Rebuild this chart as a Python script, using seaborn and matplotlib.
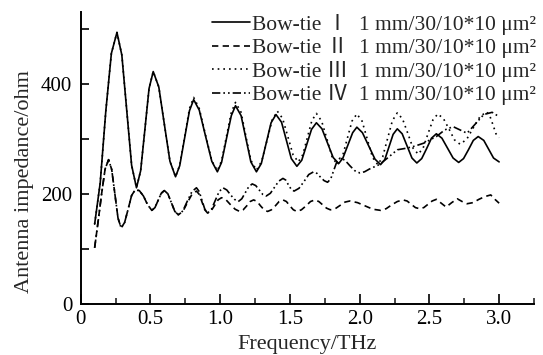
import numpy as np
import pandas as pd
import seaborn as sns
import matplotlib
matplotlib.use('Agg')
import matplotlib.pyplot as plt
from matplotlib.ticker import FixedLocator

# ---- data (frequency in THz, impedance in ohm) ----
head_x = [0.10, 0.14, 0.18, 0.22, 0.26, 0.295, 0.33, 0.365, 0.40,
          0.43, 0.46, 0.49, 0.52, 0.56, 0.60, 0.64, 0.68,
          0.71, 0.745, 0.78, 0.81, 0.85, 0.895, 0.94]

bt1_x = head_x + [0.98, 1.01, 1.045, 1.08, 1.11, 1.15, 1.185, 1.22, 1.26,
                  1.295, 1.33, 1.365, 1.40, 1.44, 1.475, 1.51, 1.55,
                  1.585, 1.62, 1.655, 1.69, 1.73, 1.77, 1.81, 1.85,
                  1.88, 1.915, 1.95, 1.98, 2.02, 2.065, 2.11, 2.15,
                  2.18, 2.21, 2.24, 2.27, 2.305, 2.34, 2.375, 2.41,
                  2.445, 2.48, 2.515, 2.55, 2.59, 2.63, 2.67, 2.71,
                  2.745, 2.78, 2.815, 2.85, 2.89, 2.925, 2.96, 3.00]
bt1_z = [145, 220, 350, 455, 493, 452, 352, 252, 211,
         242, 316, 391, 422, 394, 326, 259, 231,
         251, 301, 351, 371, 352, 305, 259,
         240, 257, 300, 342, 360, 342, 300, 258, 240,
         255, 292, 329, 344, 330, 297, 264, 250,
         261, 289, 317, 329, 318, 292, 266, 255,
         265, 288, 311, 321, 311, 287, 263, 253,
         262, 285, 308, 318, 309, 287, 265, 256,
         264, 282, 301, 309, 301, 283, 265, 257,
         264, 280, 297, 304, 297, 281, 265, 258]

bt3_x = head_x + [0.98, 1.01, 1.045, 1.08, 1.11, 1.15, 1.185, 1.22, 1.26,
                  1.2975, 1.335, 1.3725, 1.41, 1.4475, 1.485, 1.5225, 1.56,
                  1.5925, 1.625, 1.6575, 1.69, 1.7275, 1.765, 1.8025, 1.84,
                  1.875, 1.91, 1.945, 1.98, 2.0175, 2.055, 2.0925, 2.13,
                  2.165, 2.20, 2.235, 2.27, 2.3075, 2.345, 2.3825, 2.42,
                  2.455, 2.49, 2.525, 2.56, 2.60, 2.64, 2.68, 2.72,
                  2.7675, 2.815, 2.8625, 2.91, 2.9325, 2.955, 2.9775, 3.00]
bt3_z = [145, 220, 350, 455, 493, 452, 352, 252, 211,
         242, 316, 391, 422, 394, 326, 259, 231,
         252, 303, 355, 375, 355, 307, 260,
         242, 260, 304, 348, 366, 348, 304, 261, 243,
         259, 296, 334, 350, 337, 304, 271, 258,
         271, 302, 333, 346, 332, 300, 267, 253,
         266, 299, 332, 345, 332, 299, 266, 253,
         267, 300, 333, 347, 336, 310, 283, 272,
         283, 309, 334, 345, 337, 318, 298, 290,
         299, 320, 340, 349, 342, 326, 309, 302]

low_x = [0.10, 0.125, 0.15, 0.175, 0.20, 0.2225, 0.245, 0.2675, 0.29,
         0.315, 0.34, 0.365, 0.39, 0.42, 0.45, 0.48, 0.51,
         0.5325, 0.555, 0.5775, 0.60, 0.625, 0.65, 0.675, 0.70]
low_z = [102, 150, 200, 245, 262, 244, 200, 156, 138,
         148, 172, 197, 207, 206, 196, 180, 170,
         175, 188, 201, 206, 200, 184, 168, 162]

bt2_x = low_x + [0.7325, 0.765, 0.7975, 0.83, 0.85, 0.87, 0.89, 0.91,
                 0.935, 0.96, 0.985, 1.01, 1.0425, 1.075, 1.1075, 1.14,
                 1.165, 1.19, 1.215, 1.24, 1.265, 1.29, 1.315, 1.34,
                 1.3675, 1.395, 1.4225, 1.45, 1.475, 1.50, 1.525, 1.55,
                 1.5825, 1.615, 1.6475, 1.68, 1.7075, 1.735, 1.7625, 1.79,
                 1.825, 1.86, 1.895, 1.93, 1.985, 2.04, 2.095, 2.15,
                 2.19, 2.23, 2.27, 2.31, 2.34, 2.37, 2.40, 2.43,
                 2.46, 2.49, 2.52, 2.55, 2.585, 2.62, 2.66, 2.70,
                 2.735, 2.77, 2.8125, 2.855, 2.8975, 2.94, 2.97, 3.00]
bt2_z = low_z + [168, 184, 199, 205, 199, 185, 171, 165,
                 169, 179, 189, 193, 189, 180, 172, 168,
                 171, 178, 186, 189, 186, 178, 171, 168,
                 171, 178, 186, 189, 186, 178, 171, 168,
                 171, 178, 186, 189, 186, 180, 174, 171,
                 173, 179, 185, 187, 184, 178, 172, 170,
                 173, 180, 186, 189, 187, 181, 175, 173,
                 175, 181, 187, 190, 183, 176, 184, 191,
                 186, 182, 184, 190, 195, 198, 190, 183]

bt4_x = low_x + [0.7325, 0.765, 0.7975, 0.83, 0.85, 0.87, 0.89, 0.91,
                 0.9375, 0.965, 0.9925, 1.02, 1.0475, 1.075, 1.1025, 1.13,
                 1.155, 1.18, 1.205, 1.23, 1.255, 1.28, 1.305, 1.33,
                 1.36, 1.39, 1.42, 1.45, 1.47, 1.49, 1.51, 1.53,
                 1.565, 1.60, 1.635, 1.67, 1.695, 1.72, 1.745, 1.77,
                 1.7925, 1.815, 1.8375, 1.86, 1.895, 1.93, 1.965, 2.00,
                 2.035, 2.07, 2.105, 2.14, 2.20, 2.27, 2.34, 2.40,
                 2.46, 2.55, 2.61, 2.67, 2.72, 2.77, 2.83, 2.89, 2.95, 3.00]
bt4_z = low_z + [169, 187, 204, 211, 204, 188, 172, 165,
                 172, 188, 204, 211, 207, 198, 190, 186,
                 191, 202, 213, 218, 215, 207, 199, 196,
                 201, 212, 223, 228, 225, 216, 208, 205,
                 210, 222, 235, 240, 237, 230, 224, 221,
                 227, 243, 259, 265, 261, 251, 242, 238,
                 240, 245, 249, 253, 265, 280, 283, 287,
                 292, 304, 316, 322, 316, 310, 327, 344, 348, 340]

labels = ['Bow-tie \u2160  1 mm/30/10*10 \u03bcm\u00b2',
          'Bow-tie \u2161  1 mm/30/10*10 \u03bcm\u00b2',
          'Bow-tie \u2162  1 mm/30/10*10 \u03bcm\u00b2',
          'Bow-tie \u2163  1 mm/30/10*10 \u03bcm\u00b2']

# ---- plot ----
sns.set_style('ticks')
# Roman numerals fall back to the CJK font (full width, like the original)
plt.rcParams['font.family'] = ['Liberation Serif', 'Noto Sans CJK SC', 'DejaVu Serif']

fig = plt.figure(figsize=(5.43, 3.55), dpi=100)
ax = fig.add_axes([0.1486, 0.1437, 0.8348, 0.8223])

series = [(bt1_x, bt1_z, '-'),
          (bt2_x, bt2_z, (0, (3.8, 2.6))),
          (bt3_x, bt3_z, (0, (1, 2.4))),
          (bt4_x, bt4_z, (0, (5, 1.8, 1, 1.8, 1, 1.8)))]
for (x, z, ls), lab in zip(series, labels):
    sns.lineplot(x=x, y=z, ax=ax, color='black', lw=1.2, linestyle=ls,
                 label=lab, sort=False)

ax.set_xlim(0, 3.25)
ax.set_ylim(0, 530)
ax.xaxis.set_major_locator(FixedLocator([0, 0.5, 1.0, 1.5, 2.0, 2.5, 3.0]))
ax.xaxis.set_minor_locator(FixedLocator([0.25, 0.75, 1.25, 1.75, 2.25, 2.75, 3.25]))
ax.set_xticklabels(['0', '0.5', '1.0', '1.5', '2.0', '2.5', '3.0'])
ax.yaxis.set_major_locator(FixedLocator([0, 200, 400]))
ax.yaxis.set_minor_locator(FixedLocator([100, 300, 500]))

for s in ['top', 'right']:
    ax.spines[s].set_visible(False)
for s in ['left', 'bottom']:
    ax.spines[s].set_linewidth(1.4)
    ax.spines[s].set_color('black')

ax.tick_params(axis='x', which='major', direction='in', length=7, width=1.2,
               labelsize=15, pad=4, colors='black')
ax.tick_params(axis='x', which='minor', direction='in', length=4.5, width=1.2)
ax.tick_params(axis='y', which='both', direction='in', length=6, width=1.2,
               labelsize=15, pad=6, colors='black')

ax.set_xlabel('Frequency/THz', fontsize=16, labelpad=5)
ax.set_ylabel('Antenna impedance/ohm', fontsize=16)
ax.yaxis.set_label_coords(-0.103, 0.42)

leg = ax.legend(loc='upper right', bbox_to_anchor=(1.005, 0.995), frameon=False,
                fontsize=15.5, handlelength=1.75, handletextpad=0.1,
                labelspacing=0.12, borderpad=0, borderaxespad=0)
for line in leg.get_lines():
    line.set_linewidth(1.2)

fig.savefig('out.png', dpi=100)
